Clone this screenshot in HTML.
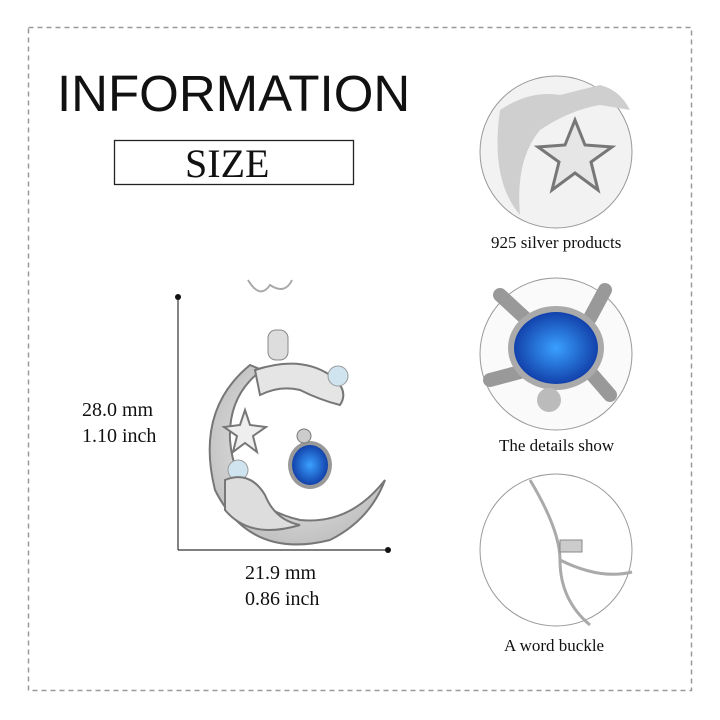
<!DOCTYPE html>
<html><head><meta charset="utf-8"><style>
body{margin:0;width:720px;height:720px;background:#fff;position:relative;overflow:hidden;font-family:"Liberation Serif",serif;}
.t{position:absolute;color:#111;white-space:nowrap;}
</style></head><body>
<svg width="720" height="720" style="position:absolute;left:0;top:0">
<rect x="28.5" y="27.5" width="663" height="663" fill="none" stroke="#999" stroke-width="1.5" stroke-dasharray="5,4"/>
<rect x="114.5" y="140.5" width="239" height="44" fill="none" stroke="#222" stroke-width="1.3"/>
<line x1="178" y1="297" x2="178" y2="550" stroke="#333" stroke-width="1.2"/>
<line x1="178" y1="550" x2="388" y2="550" stroke="#333" stroke-width="1.2"/>
<circle cx="178" cy="297" r="3" fill="#111"/><circle cx="388" cy="550" r="3" fill="#111"/>
<defs>
<radialGradient id="g" cx="50%" cy="45%" r="60%"><stop offset="0" stop-color="#f4f4f4"/><stop offset="1" stop-color="#bdbdbd"/></radialGradient>
<radialGradient id="b" cx="50%" cy="50%" r="60%"><stop offset="0" stop-color="#3aa0ff"/><stop offset="1" stop-color="#0a2f9a"/></radialGradient>
</defs>
<circle cx="556" cy="152" r="76" fill="#f2f2f2" stroke="#999"/>
<path d="M500 110 Q530 90 560 95 L600 85 Q620 90 630 110 L600 105 Q570 110 540 130 Q515 160 520 215 Q490 180 500 110Z" fill="#cfcfcf"/>
<polygon points="575,120 585,145 612,147 591,162 598,190 575,173 552,190 559,162 538,147 565,145" fill="#e6e6e6" stroke="#777" stroke-width="3"/>
<circle cx="556" cy="354" r="76" fill="#fafafa" stroke="#999"/>
<path d="M500 295 L525 318 M605 290 L590 318 M490 380 L520 372 M610 395 L590 372" stroke="#999" stroke-width="14" stroke-linecap="round"/>
<ellipse cx="556" cy="348" rx="48" ry="42" fill="#aaa"/>
<ellipse cx="556" cy="348" rx="42" ry="36" fill="url(#b)"/>
<circle cx="549" cy="400" r="12" fill="#bbb"/>
<circle cx="556" cy="550" r="76" fill="#fff" stroke="#999"/>
<path d="M530 480 Q560 530 560 560 Q560 600 590 625 M560 560 Q600 580 632 572" fill="none" stroke="#aaa" stroke-width="3"/>
<rect x="560" y="540" width="22" height="12" fill="#ccc" stroke="#888"/>
<path d="M248 280 Q260 300 270 285 Q285 295 292 280" fill="none" stroke="#aaa" stroke-width="2"/>
<rect x="268" y="330" width="20" height="30" rx="8" fill="#ddd" stroke="#888"/>
<path d="M250 365 Q195 410 215 490 Q250 560 330 540 Q370 520 385 480 Q350 525 300 520 Q235 505 230 440 Q228 395 262 370Z" fill="url(#g)" stroke="#777" stroke-width="2"/>
<path d="M255 370 Q300 355 330 375 Q350 390 340 405 Q320 400 300 390 Q280 385 260 395Z" fill="#e5e5e5" stroke="#777" stroke-width="2"/>
<circle cx="338" cy="376" r="10" fill="#cfe4ef" stroke="#999"/>
<circle cx="238" cy="470" r="10" fill="#cfe4ef" stroke="#999"/>
<polygon points="245,410 250,425 266,427 253,436 257,452 245,443 233,452 237,436 224,427 240,425" fill="#eee" stroke="#777" stroke-width="2"/>
<path d="M225 480 Q250 470 265 495 Q275 520 300 525 Q250 540 225 510Z" fill="#ddd" stroke="#777" stroke-width="2"/>
<ellipse cx="310" cy="465" rx="22" ry="24" fill="#999"/>
<ellipse cx="310" cy="465" rx="18" ry="20" fill="url(#b)"/>
<circle cx="304" cy="436" r="7" fill="#ccc" stroke="#777"/>
</svg>
<div class="t" style="left:57px;top:64px;font-family:'Liberation Sans',sans-serif;font-size:51px">INFORMATION</div>
<div class="t" style="left:185px;top:140px;font-size:40px">SIZE</div>
<div class="t" style="left:82px;top:399px;font-size:20px">28.0 mm</div>
<div class="t" style="left:82px;top:425px;font-size:20px">1.10 inch</div>
<div class="t" style="left:245px;top:562px;font-size:20px">21.9 mm</div>
<div class="t" style="left:245px;top:588px;font-size:20px">0.86 inch</div>
<div class="t" style="left:491px;top:233px;font-size:17px">925 silver products</div>
<div class="t" style="left:499px;top:436px;font-size:17px">The details show</div>
<div class="t" style="left:504px;top:636px;font-size:17px">A word buckle</div>
</body></html>
